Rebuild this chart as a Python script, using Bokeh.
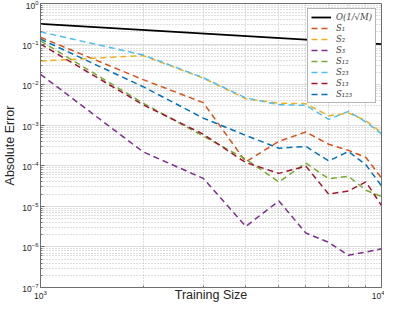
from bokeh.plotting import figure
from bokeh.models import FixedTicker, LogTickFormatter, Legend, LegendItem, Range1d
from bokeh.embed import file_html
from bokeh.resources import INLINE

# ---- data ----
training_size = [1000, 2000, 3000, 4000, 5000, 6000, 7000, 8000, 9000, 10000]
ref_x = [1000, 10000]
ref_y = [0.316, 0.1]

S1 = [0.147, 0.0133, 0.0036, 1.25e-4, 4.0e-4, 6.8e-4, 3.4e-4, 2.4e-4, 1.6e-4, 5.0e-5]
S2 = [0.038, 0.052, 0.0145, 0.0045, 0.0035, 0.0034, 0.0017, 0.0020, 0.0013, 6.5e-4]
S3 = [0.018, 2.2e-4, 4.9e-5, 3.2e-6, 1.36e-5, 2.2e-6, 1.3e-6, 6.2e-7, 7.5e-7, 9.0e-7]
S12 = [0.12, 0.0035, 5.4e-4, 1.45e-4, 4.0e-5, 1.17e-4, 4.8e-5, 5.5e-5, 2.5e-5, 1.75e-5]
S23 = [0.20, 0.054, 0.0148, 0.0047, 0.0032, 0.0031, 0.0014, 0.0022, 0.0012, 6.1e-4]
S13 = [0.10, 0.0032, 6.0e-4, 1.2e-4, 6.5e-5, 9.8e-5, 2.0e-5, 2.4e-5, 4.0e-5, 1.05e-5]
S123 = [0.133, 0.0089, 0.0015, 5.6e-4, 2.7e-4, 3.0e-4, 1.32e-4, 2.25e-4, 1.06e-4, 3.2e-5]

series = [
    ("S\u2081", S1, "#D95319"),
    ("S\u2082", S2, "#EDB120"),
    ("S\u2083", S3, "#7E2F8E"),
    ("S\u2081\u2082", S12, "#77AC30"),
    ("S\u2082\u2083", S23, "#4DBEEE"),
    ("S\u2081\u2083", S13, "#A2142F"),
    ("S\u2081\u2082\u2083", S123, "#0072BD"),
]

x_major = [1000, 10000]
x_minor = [2000, 3000, 4000, 5000, 6000, 7000, 8000, 9000]
y_major = [10.0 ** k for k in range(-7, 1)]
y_minor = [m * 10.0 ** k for k in range(-7, 0) for m in range(2, 10)]
x_title = "Training Size"
y_title = "Absolute Error"

FONT = "Liberation Sans"
AX = "#6e6e6e"

p = figure(width=384, height=304, x_axis_type="log", y_axis_type="log",
           x_range=Range1d(1000, 10000), y_range=Range1d(1e-7, 1),
           output_backend="svg", toolbar_location=None,
           min_border_left=35, min_border_top=3, min_border_right=3, min_border_bottom=2,
           x_axis_label=x_title, y_axis_label=y_title)

p.outline_line_color = AX
p.outline_line_width = 1

xt = FixedTicker(ticks=x_major, minor_ticks=x_minor)
yt = FixedTicker(ticks=y_major, minor_ticks=y_minor)

for ax, t in ((p.xaxis[0], xt), (p.yaxis[0], yt)):
    ax.ticker = t
    ax.formatter = LogTickFormatter()
    ax.axis_line_color = AX
    ax.major_tick_line_color = AX
    ax.minor_tick_line_color = AX
    ax.major_tick_in = 4
    ax.major_tick_out = 0
    ax.minor_tick_in = 2
    ax.minor_tick_out = 0
    ax.major_label_text_font = FONT
    ax.major_label_text_font_size = "8.5px"
    ax.major_label_text_color = "#262626"
    ax.major_label_standoff = 2
    ax.axis_label_text_font = FONT
    ax.axis_label_text_font_size = "12.5px"
    ax.axis_label_text_font_style = "normal"
    ax.axis_label_text_color = "#262626"
    ax.axis_label_standoff = 2

# x title may sit in the tick-label band: only the two end ticks carry labels
p.xaxis[0].axis_label_standoff = -14

for g in (p.xgrid[0], p.ygrid[0]):
    g.grid_line_color = "#dcdcdc"
    g.grid_line_width = 1
    g.minor_grid_line_color = "#bdbdbd"
    g.minor_grid_line_dash = "1 2"
    g.minor_grid_line_width = 1
p.xgrid[0].ticker = xt
p.ygrid[0].ticker = yt

items = []
r = p.line(ref_x, ref_y, line_color="black", line_width=1.8)
items.append(LegendItem(label="O(1/\u221AM)", renderers=[r]))
for name, vals, col in series:
    r = p.line(training_size, vals, line_color=col, line_width=1.5, line_dash="6 4")
    items.append(LegendItem(label=name, renderers=[r]))

legend = Legend(items=items, location="top_right")
legend.label_text_font = "DejaVu Serif"
legend.label_text_font_style = "italic"
legend.label_text_font_size = "8.5px"
legend.label_height = 8
legend.glyph_height = 8
legend.glyph_width = 20
legend.spacing = 1
legend.padding = 3
legend.margin = 5
legend.label_standoff = 5
legend.border_line_color = AX
legend.border_line_width = 1
legend.background_fill_alpha = 1
p.add_layout(legend)

open("out.html", "w").write(file_html(p, INLINE))
